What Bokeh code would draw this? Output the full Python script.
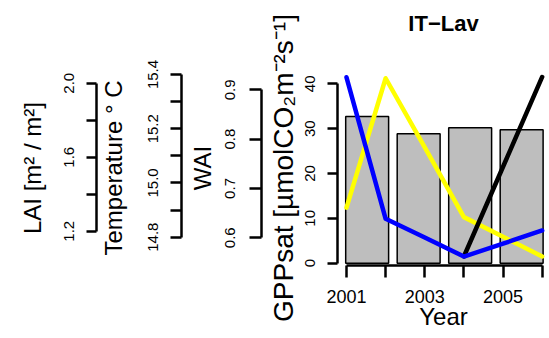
import math
from bokeh.plotting import figure
from bokeh.models import LinearAxis, Range1d, FixedTicker, PrintfTickFormatter
from bokeh.embed import file_html
from bokeh.resources import INLINE

# ---- data ----
years = [2001, 2002, 2003, 2004, 2005, 2006]
lai = [2.032, 1.267, 1.166, 1.063, 1.133, 1.204]            # blue
temperature = [14.909, 15.386, 15.131, 14.874, 14.802, 14.729]  # yellow
wai = [math.nan, math.nan, math.nan, 0.562, 0.744, 0.926]    # black
bar_pos = [0.7, 1.9, 3.1, 4.3]
gpp_sat = [32.7, 28.85, 30.2, 29.75]

x_ticks = [2001, 2003, 2005]
x_minor = [2002, 2004, 2006]
gpp_ticks = [0, 10, 20, 30, 40]
wai_ticks = [0.6, 0.7, 0.8, 0.9]
temp_ticks = [14.8, 15.0, 15.2, 15.4]
temp_minor = [14.9, 15.1, 15.3]
lai_ticks = [1.2, 1.6, 2.0]
lai_minor = [1.4, 1.8]

FONT = "Liberation Sans"

p = figure(width=549, height=338, output_backend="svg", toolbar_location=None,
           x_range=Range1d(2000.770, 2006.187), y_range=Range1d(-0.513, 42.965),
           x_axis_location=None, y_axis_location=None,
           min_border_left=337, min_border_right=0, min_border_top=70, min_border_bottom=73)
p.outline_line_color = None
for g in p.grid:
    g.visible = False
p.background_fill_color = "white"
p.border_fill_color = "white"

p.extra_x_ranges = {"bars": Range1d(0.009, 4.949)}
p.extra_y_ranges = {
    "lai": Range1d(1.0146, 2.0687),
    "temp": Range1d(14.6956, 15.4146),
    "wai": Range1d(0.5438, 0.9391),
}

p.title.text = "IT\u2212Lav\n"
p.title.text_font = FONT
p.title.text_font_size = "22px"
p.title.text_font_style = "bold"
p.title.text_color = "black"
p.title.align = "center"
p.title.vertical_align = "top"
p.title.standoff = 0
p.title.text_line_height = 1.31

p.vbar(x=bar_pos, top=gpp_sat, bottom=0, width=1.0, x_range_name="bars",
       fill_color="#BEBEBE", line_color="black", line_width=1.5)

p.line(years, temperature, y_range_name="temp", line_color="#FFFF00", line_width=4.5,
       line_cap="round", line_join="round")
p.line(years, wai, y_range_name="wai", line_color="black", line_width=4.5,
       line_cap="round", line_join="round")
p.line(years, lai, y_range_name="lai", line_color="#0000FF", line_width=4.5,
       line_cap="round", line_join="round")


def style(ax, tick_out, label_standoff, lab_standoff, tick_font="15px", lab_font="24px"):
    ax.axis_line_width = 2.5
    ax.axis_line_color = "black"
    ax.major_tick_line_width = 2.5
    ax.minor_tick_line_width = 2.5
    ax.major_tick_out = tick_out
    ax.minor_tick_out = tick_out
    ax.major_tick_in = 0
    ax.minor_tick_in = 0
    ax.major_label_standoff = label_standoff
    ax.major_label_text_font = FONT
    ax.major_label_text_font_size = tick_font
    ax.major_label_text_color = "black"
    ax.axis_label_standoff = lab_standoff
    ax.axis_label_text_font = FONT
    ax.axis_label_text_font_size = lab_font
    ax.axis_label_text_font_style = "normal"
    ax.axis_label_text_color = "black"


gpp_axis = LinearAxis(bounds=(0, 40), ticker=FixedTicker(ticks=gpp_ticks),
                      axis_label="\nGPPsat [\u00b5molCO\u2082m\u207b\u00b2s\u207b\u00b9]",
                      major_label_orientation="parallel")
style(gpp_axis, 10, 12, 4, lab_font="28px")
gpp_axis.axis_label_text_line_height = 0.09

wai_axis = LinearAxis(y_range_name="wai", bounds=(0.6, 0.9), ticker=FixedTicker(ticks=wai_ticks),
                      formatter=PrintfTickFormatter(format="%.1f"),
                      axis_label="\nWAI", major_label_orientation="parallel")
style(wai_axis, 12, 14, 7)
wai_axis.axis_label_text_line_height = 0.13

temp_axis = LinearAxis(y_range_name="temp", bounds=(14.8, 15.4),
                       ticker=FixedTicker(ticks=temp_ticks, minor_ticks=temp_minor),
                       formatter=PrintfTickFormatter(format="%.1f"),
                       axis_label="Temperature \u00b0 C", major_label_orientation="parallel")
style(temp_axis, 11, 12, 19)

lai_axis = LinearAxis(y_range_name="lai", bounds=(1.2, 2.0),
                      ticker=FixedTicker(ticks=lai_ticks, minor_ticks=lai_minor),
                      formatter=PrintfTickFormatter(format="%.1f"),
                      axis_label="LAI [m\u00b2 / m\u00b2]", major_label_orientation="parallel")
style(lai_axis, 10, 12, 16)

for ax in (gpp_axis, wai_axis, temp_axis, lai_axis):
    p.add_layout(ax, "left")

x_axis = LinearAxis(bounds=(2001, 2006), ticker=FixedTicker(ticks=x_ticks, minor_ticks=x_minor),
                    axis_label="Year")
style(x_axis, 12, 12, -3, tick_font="18px", lab_font="24px")
p.add_layout(x_axis, "below")

open("out.html", "w").write(file_html(p, INLINE))
